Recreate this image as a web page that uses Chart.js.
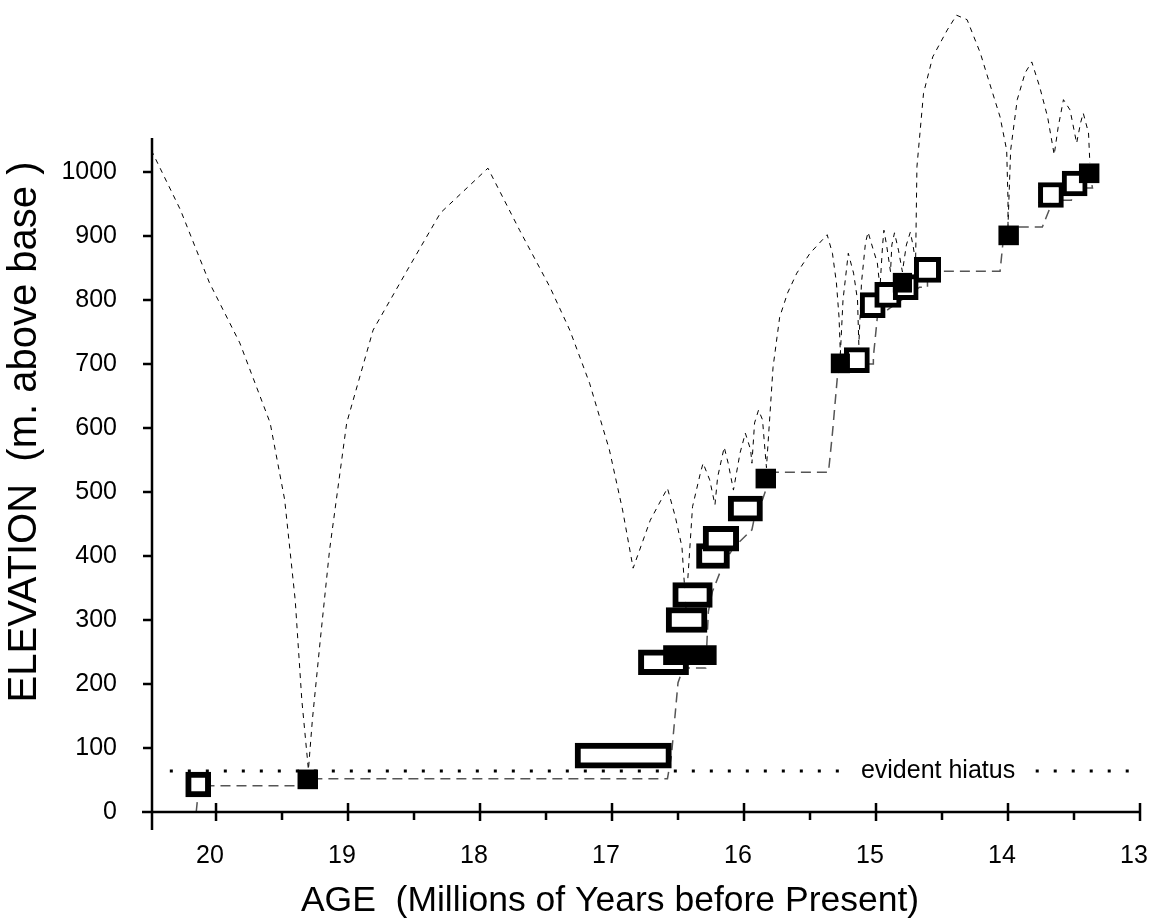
<!DOCTYPE html>
<html lang="en">
<head>
<meta charset="UTF-8">
<title>Elevation vs Age</title>
<script src="https://cdn.jsdelivr.net/npm/chart.js"></script>
<style>
  html, body { margin: 0; padding: 0; background: #fff; }
  #wrap { width: 1154px; height: 919px; position: relative; }
</style>
</head>
<body>
<div id="wrap"><canvas id="ageChart"></canvas></div>
<script>
// open boxes: age range (Ma, older -> younger) and elevation (m above base)
const openFrom = [20.23, 17.28, 16.80, 16.59, 16.54, 16.36, 16.31, 16.12, 15.24, 15.12, 15.01, 14.87, 14.71, 13.77, 13.59];
const openTo   = [20.04, 16.55, 16.42, 16.28, 16.24, 16.11, 16.04, 15.86, 15.05, 14.93, 14.81, 14.68, 14.51, 13.58, 13.40];
const openElev = [43, 88, 234, 300, 339, 400, 427, 474, 706, 792, 808, 820, 847, 964, 982];

// filled boxes
const filledFrom = [19.38, 16.61, 15.91, 15.34, 14.87, 14.07, 13.46];
const filledTo   = [19.23, 16.21, 15.76, 15.20, 14.73, 13.92, 13.31];
const filledElev = [51, 245, 521, 701, 827, 901, 998];

// upper dashed curve
const envAge = [20.49,20.27,20.05,19.82,19.59,19.48,19.40,19.35,19.30,
  19.27,19.21,19.14,19.01,18.81,18.55,18.30,17.94,
  17.70,17.47,17.32,17.17,17.02,16.92,16.84,
  16.71,16.58,
  16.52,16.47,16.44,
  16.39,16.33,16.31,
  16.26,16.22,
  16.20,16.15,
  16.12,16.08,
  16.03,15.99,
  15.95,15.94,
  15.92,15.89,
  15.86,15.83,
  15.78,15.73,15.67,15.60,15.50,15.37,
  15.33,15.30,15.28,15.27,
  15.25,15.21,
  15.17,15.14,15.13,
  15.11,15.08,15.06,
  15.02,14.99,14.97,
  14.95,14.94,
  14.92,14.89,
  14.88,14.86,
  14.83,14.80,
  14.77,14.74,
  14.72,14.70,
  14.69,14.64,14.57,14.46,14.39,14.31,14.21,14.14,14.06,14.01,14.00,14.00,
  13.98,13.93,13.87,13.82,
  13.76,13.70,13.65,
  13.62,13.58,
  13.53,13.48,
  13.45,13.43,
  13.39,13.38];
const envElev = [1034,941,827,733,608,488,331,175,66,
  144,269,409,608,753,847,936,1006,
  909,820,753,670,566,472,381,
  456,506,
  461,414,319,
  477,530,545,
  519,480,
  523,570,
  545,503,
  561,592,
  566,545,
  608,628,
  613,538,
  695,773,811,842,873,902,
  873,827,773,716,
  800,873,
  842,800,730,
  827,889,906,
  878,858,819,
  886,909,
  886,844,
  886,905,
  878,844,
  886,906,
  886,859,
  1008,1123,1180,1222,1245,1238,1186,1139,1086,1034,956,916,
  1034,1113,1155,1172,
  1133,1086,1027,
  1070,1113,
  1097,1045,
  1077,1092,
  1061,1014];

// lower dashed line joining the samples
const stepAge  = [20.15,20.13,19.36,19.33,16.58,16.55,16.50,16.46,16.29,16.27,16.24,16.16,16.08,15.94,15.92,15.86,15.83,15.83,15.36,15.33,15.29,15.15,15.02,15.02,14.99,14.89,14.67,14.61,14.61,14.06,14.04,14.00,13.74,13.68,13.68,13.52,13.49,13.36,13.38];
const stepElev = [0,41,41,52,52,88,202,225,225,313,344,386,413,441,461,488,506,531,531,592,686,700,700,711,773,788,820,820,845,845,886,914,914,945,956,956,975,975,998];

// hiatus level
const hiatusAge = [20.35, 15.24, null, 13.79, 13.06];
const hiatusElev = 64;
const hiatusLabel = 'evident hiatus';
const hiatusLabelAge = 14.53;

const xTicks = [20, 19, 18, 17, 16, 15, 14, 13];
const yTicks = [0, 100, 200, 300, 400, 500, 600, 700, 800, 900, 1000];
const xTitle = 'AGE  (Millions of Years before Present)';
const yTitle = 'ELEVATION  (m. above base )';

const FONT = '"Liberation Sans", Arial, Helvetica, sans-serif';

// fixed axis sizes, no extra label padding
function fixBox(s, w, h) {
  if (w) s.width = w;
  if (h) s.height = h;
  s.paddingTop = 0;
  s.paddingBottom = 0;
  s.paddingLeft = 0;
  s.paddingRight = 0;
}

const axesAndText = {
  id: 'axesAndText',
  afterDatasetsDraw(chart) {
    const {ctx, chartArea, scales: {x, y}} = chart;
    const y0 = y.getPixelForValue(0);
    const left = chartArea.left;
    ctx.save();
    ctx.strokeStyle = '#000';
    ctx.lineWidth = 2.5;
    ctx.beginPath();
    // axis lines
    ctx.moveTo(left, y.getPixelForValue(1053));
    ctx.lineTo(left, y0 + 18);
    ctx.moveTo(left - 10, y0);
    ctx.lineTo(chartArea.right, y0);
    // x ticks
    xTicks.forEach(v => {
      const px = x.getPixelForValue(v);
      ctx.moveTo(px, y0 - 9);
      ctx.lineTo(px, y0 + 9);
      if (v < 20) {
        const mx = x.getPixelForValue(v + 0.5);
        ctx.moveTo(mx, y0);
        ctx.lineTo(mx, y0 + 8);
      }
    });
    // y ticks
    yTicks.forEach(v => {
      const py = y.getPixelForValue(v);
      ctx.moveTo(left - 9, py);
      ctx.lineTo(left, py);
    });
    ctx.stroke();

    ctx.fillStyle = '#000';
    ctx.textAlign = 'center';
    ctx.textBaseline = 'middle';
    ctx.font = '25px ' + FONT;
    ctx.fillText(hiatusLabel, x.getPixelForValue(hiatusLabelAge), y.getPixelForValue(hiatusElev));

    ctx.font = '35.5px ' + FONT;
    ctx.fillText(xTitle, 610, 901);
    ctx.font = '40px ' + FONT;
    ctx.translate(25, 432);
    ctx.rotate(-Math.PI / 2);
    ctx.fillText(yTitle, 0, 0);
    ctx.restore();
  }
};

new Chart(document.getElementById('ageChart'), {
  type: 'scatter',
  data: {
    datasets: [
      {
        type: 'bar',
        indexAxis: 'y',
        data: filledElev.map((e, i) => ({x: [filledFrom[i], filledTo[i]], y: e})),
        backgroundColor: '#000',
        borderWidth: 0,
        barThickness: 19,
        grouped: false,
        order: 0
      },
      {
        type: 'bar',
        indexAxis: 'y',
        data: openElev.map((e, i) => ({x: [openFrom[i], openTo[i]], y: e})),
        backgroundColor: '#fff',
        borderColor: '#000',
        borderWidth: ctx => ctx.dataIndex < 8 ? 6 : 5,
        borderSkipped: false,
        barThickness: 25,
        grouped: false,
        order: 1
      },
      {
        type: 'line',
        data: stepAge.map((a, i) => ({x: a, y: stepElev[i]})),
        borderColor: '#555',
        borderWidth: 1.5,
        borderDash: [10, 6],
        pointRadius: 0,
        tension: 0,
        fill: false,
        order: 2
      },
      {
        type: 'line',
        data: envAge.map((a, i) => ({x: a, y: envElev[i]})),
        borderColor: '#000',
        borderWidth: 1,
        borderDash: [5, 5],
        pointRadius: 0,
        tension: 0,
        fill: false,
        order: 3
      },
      {
        type: 'line',
        data: hiatusAge.map(a => ({x: a, y: a === null ? null : hiatusElev})),
        borderColor: '#000',
        borderWidth: 3,
        borderDash: [3, 15],
        pointRadius: 0,
        spanGaps: false,
        fill: false,
        order: 4
      }
    ]
  },
  options: {
    responsive: true,
    maintainAspectRatio: false,
    animation: false,
    events: [],
    layout: { padding: { top: 4, right: 14, bottom: 0, left: 0 } },
    plugins: { legend: { display: false }, tooltip: { enabled: false } },
    scales: {
      x: {
        type: 'linear',
        reverse: true,
        min: 13,
        max: 20.485,
        offset: false,
        afterFit(s) { fixBox(s, 0, 107); },
        grid: { display: false, drawTicks: false, offset: false },
        border: { display: false },
        ticks: {
          stepSize: 1,
          includeBounds: false,
          autoSkip: false,
          maxRotation: 0,
          padding: 29,
          labelOffset: -6,
          color: '#000',
          font: { family: FONT, size: 25 },
          callback: v => xTicks.some(t => Math.abs(t - v) < 1e-6) ? String(Math.round(v)) : ''
        }
      },
      y: {
        type: 'linear',
        min: 0,
        max: 1262.5,
        offset: false,
        afterFit(s) { fixBox(s, 152, 0); },
        grid: { display: false, drawTicks: false, offset: false },
        border: { display: false },
        ticks: {
          stepSize: 100,
          autoSkip: false,
          padding: 35,
          color: '#000',
          font: { family: FONT, size: 25 },
          callback: v => yTicks.some(t => Math.abs(t - v) < 1e-6) ? String(Math.round(v)) : ''
        }
      }
    }
  },
  plugins: [axesAndText]
});
</script>
</body>
</html>
